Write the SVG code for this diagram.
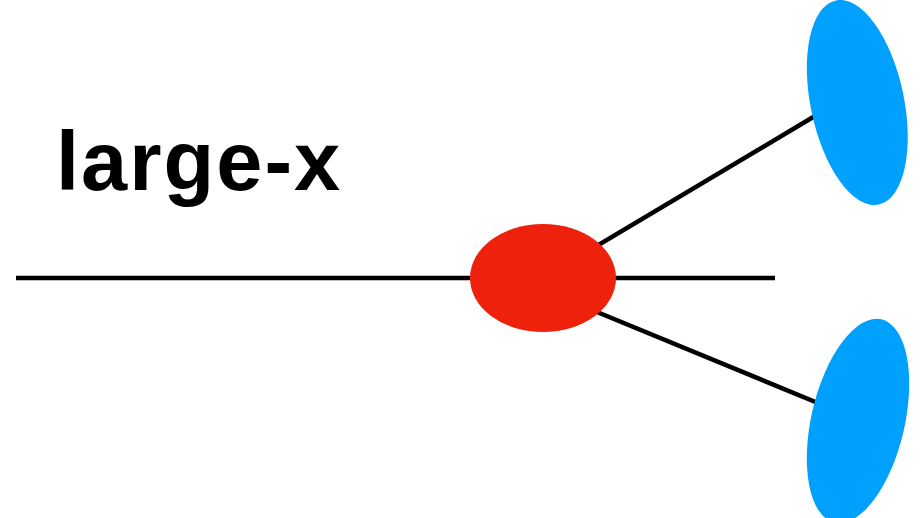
<svg xmlns="http://www.w3.org/2000/svg" width="923" height="518" viewBox="0 0 923 518">
<style>
.ln{stroke:#000;stroke-width:4.5;fill:none}
.blue{fill:#00A0FF}
.red{fill:#EE220C}
.lbl{font-family:"Liberation Sans",Arial,sans-serif;font-weight:bold;font-size:83px;letter-spacing:2px;fill:#000}
</style>
<rect width="923" height="518" fill="#fff"/>
<g id="connectors">
<line class="ln" x1="16" y1="278" x2="775" y2="278"/>
<line class="ln" x1="543" y1="278" x2="830" y2="107"/>
<line class="ln" x1="580" y1="305" x2="830" y2="408"/>
</g>
<g id="center"><ellipse class="red" cx="543" cy="278" rx="73" ry="54"/></g>
<g id="top-blob"><ellipse class="blue" cx="857.3" cy="102.5" rx="46.7" ry="104.3" transform="rotate(-11.8 857.3 102.5)"/></g>
<g id="bottom-blob"><ellipse class="blue" cx="858" cy="421" rx="46.7" ry="104.3" transform="rotate(13 858 421)"/></g>
<g id="label"><text class="lbl" x="56" y="190">large-x</text></g>
</svg>
